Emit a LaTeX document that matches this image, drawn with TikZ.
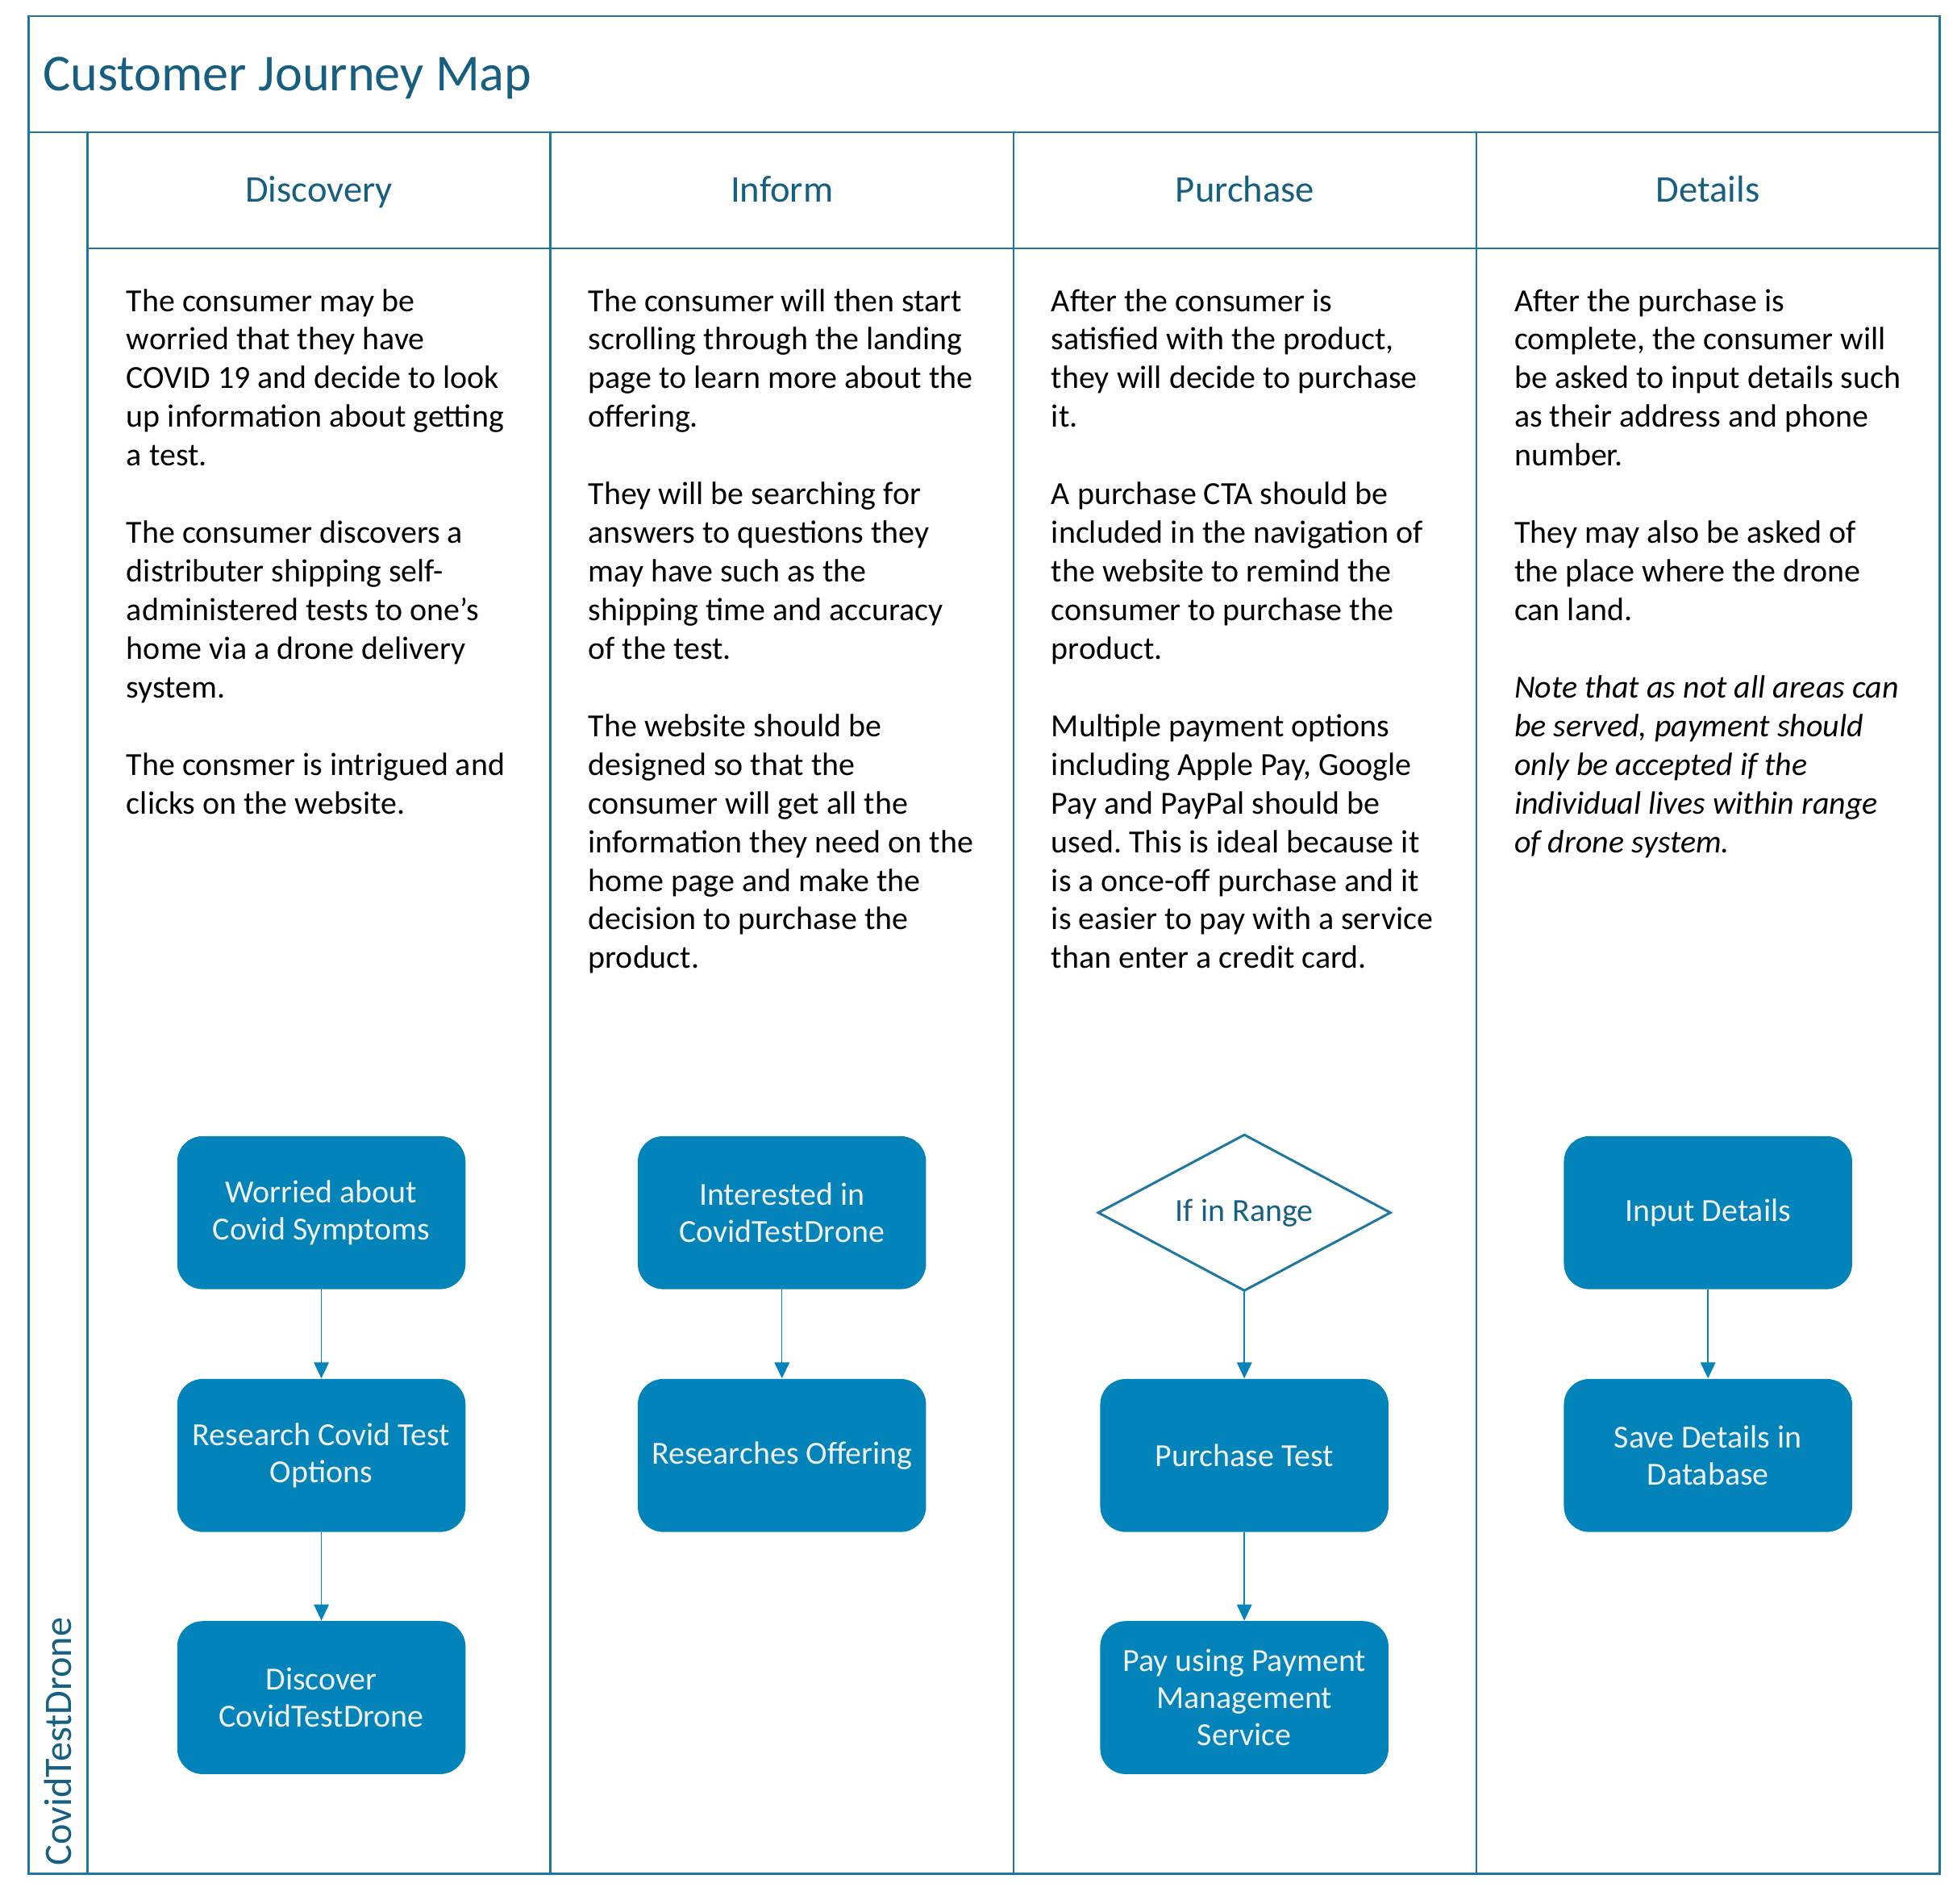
\documentclass[tikz,border=0pt]{standalone}
\usepackage{fontspec}
\setmainfont{Carlito}
\usetikzlibrary{shapes.geometric,arrows.meta}
\definecolor{framec}{HTML}{1F77A0}
\definecolor{titlec}{HTML}{175F80}
\definecolor{boxfill}{HTML}{0284BB}
\definecolor{boxtext}{HTML}{F0F0F0}
\frenchspacing
\tikzset{
  frameline/.style={draw=framec, line width=0.8pt},
  titletext/.style={text=titlec, inner sep=0pt, font=\fontsize{19.3}{22}\selectfont},
  headtext/.style={text=titlec, inner sep=0pt, anchor=base, font=\fontsize{14}{16.8}\selectfont},
  bodytext/.style={text=black, inner sep=0pt, align=left, anchor=north west, font=\fontsize{12}{14.4}\selectfont\frenchspacing},
  stepbox/.style={rectangle, rounded corners=9.5pt, fill=boxfill, text=boxtext, align=center,
    minimum width=107.4pt, minimum height=57pt, inner sep=0pt, font=\fontsize{12}{13.8}\selectfont},
  decide/.style={rectangle, text=titlec, align=center, outer sep=0pt,
    minimum width=108.8pt, minimum height=58pt, inner sep=0pt, font=\fontsize{12}{13.8}\selectfont},
  decideline/.style={draw=framec, line width=0.9pt, line join=miter},
  conn/.style={draw=boxfill, line width=0.45pt, -{Triangle[length=6pt,width=5.6pt]}},
}
\newcommand{\pbreak}{\\[14.4pt]}
\begin{document}
\begin{tikzpicture}[x=0.465pt,y=-0.465pt]
\useasboundingbox (0,0) rectangle (1568,1525);
% frame
\draw[frameline] (23,13) rectangle (1554,1501);
\draw[frameline] (23,106) -- (1554,106);
\draw[frameline] (70,106) -- (70,1501);
\draw[frameline] (441,106) -- (441,1501);
\draw[frameline] (812,106) -- (812,1501);
\draw[frameline] (1183,106) -- (1183,1501);
\draw[frameline] (70,199) -- (1554,199);
% titles
\node[titletext, anchor=base west] (title) at (34,73) {Customer Journey Map};
\node[headtext] (h1) at (255.5,162) {Discovery};
\node[headtext] (h2) at (626.5,162) {Inform};
\node[headtext] (h3) at (997.5,162) {Purchase};
\node[headtext] (h4) at (1368.5,162) {Details};
\node[text=titlec, inner sep=0pt, rotate=90, anchor=west, font=\fontsize{14.5}{17}\selectfont] (lane) at (46.5,1495) {CovidTestDrone};
% body texts
\node[bodytext] (t1) at (101,227.3) {\strut The consumer may be\\worried that they have\\COVID 19 and decide to look\\up information about getting\\a test.\pbreak
The consumer discovers a\\distributer shipping self-\\administered tests to one's\\home via a drone delivery\\system.\pbreak
The consmer is intrigued and\\clicks on the website.};
\node[bodytext] (t2) at (471,227.3) {\strut The consumer will then start\\scrolling through the landing\\page to learn more about the\\offering.\pbreak
They will be searching for\\answers to questions they\\may have such as the\\shipping time and accuracy\\of the test.\pbreak
The website should be\\designed so that the\\consumer will get all the\\information they need on the\\home page and make the\\decision to purchase the\\product.};
\node[bodytext] (t3) at (842,227.3) {\strut After the consumer is\\satisfied with the product,\\they will decide to purchase\\it.\pbreak
A purchase CTA should be\\included in the navigation of\\the website to remind the\\consumer to purchase the\\product.\pbreak
Multiple payment options\\including Apple Pay, Google\\Pay and PayPal should be\\used. This is ideal because it\\is a once-off purchase and it\\is easier to pay with a service\\than enter a credit card.};
\node[bodytext] (t4) at (1213,227.3) {\strut After the purchase is\\complete, the consumer will\\be asked to input details such\\as their address and phone\\number.\pbreak
They may also be asked of\\the place where the drone\\can land.\pbreak
\itshape Note that as not all areas can\\\itshape be served, payment should\\\itshape only be accepted if the\\\itshape individual lives within range\\\itshape of drone system.};
% flow boxes
\node[stepbox] (a1) at (257.5,971.5) {Worried about\\Covid Symptoms};
\node[stepbox] (a2) at (257.5,1166) {Research Covid Test\\Options};
\node[stepbox] (a3) at (257.5,1360) {Discover\\CovidTestDrone};
\node[stepbox] (b1) at (626.5,971.5) {Interested in\\CovidTestDrone};
\node[stepbox] (b2) at (626.5,1166) {Researches Offering};
\node[decide] (c1) at (997,971.5) {If in Range};
\draw[decideline] (c1.north) -- (c1.east) -- (c1.south) -- (c1.west) -- cycle;
\node[stepbox] (c2) at (997,1166) {Purchase Test};
\node[stepbox] (c3) at (997,1360) {Pay using Payment\\Management\\Service};
\node[stepbox] (d1) at (1368.5,971.5) {Input Details};
\node[stepbox] (d2) at (1368.5,1166) {Save Details in\\Database};
% connectors
\draw[conn] (a1) -- (a2);
\draw[conn] (a2) -- (a3);
\draw[conn] (b1) -- (b2);
\draw[conn] (c1.south) -- (c2);
\draw[conn] (c2) -- (c3);
\draw[conn] (d1) -- (d2);
\end{tikzpicture}
\end{document}
